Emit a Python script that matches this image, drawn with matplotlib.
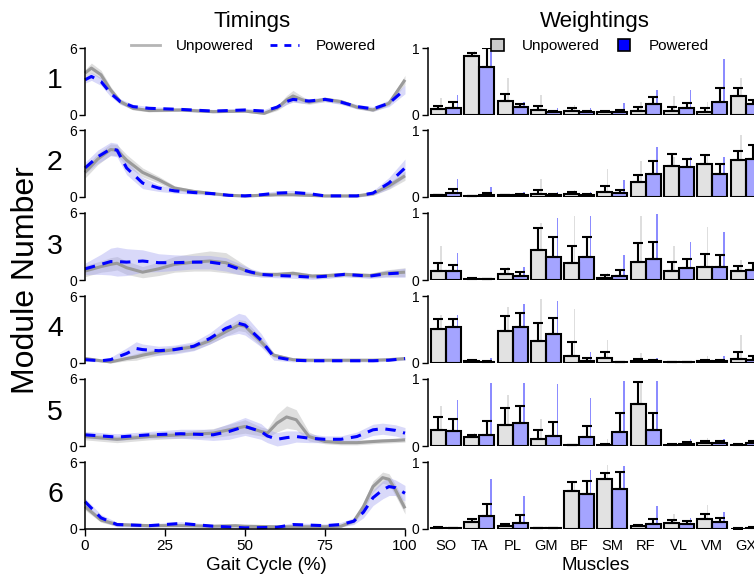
import numpy as np
import matplotlib
matplotlib.use("Agg")
import matplotlib.pyplot as plt
from matplotlib.lines import Line2D
from matplotlib.patches import Patch

plt.rcParams['font.family'] = ['Liberation Sans', 'DejaVu Sans']

# ---------------- Timing data (gait cycle %, activation) ----------------
m1_x = [0, 2, 5, 8, 11, 15, 20, 30, 40, 50, 56, 60, 63, 65, 68, 70, 75, 80, 85, 90, 95, 100]
m1_unp = [3.75, 4.2, 3.6, 2.25, 1.2, 0.6, 0.4, 0.45, 0.3, 0.35, 0.15, 0.6, 1.35, 1.7, 1.35, 1.15, 1.4, 1.2, 0.7, 0.45, 1.05, 3.15]
m1_pow = [3.15, 3.45, 3.0, 1.95, 1.2, 0.75, 0.6, 0.5, 0.35, 0.45, 0.35, 0.7, 1.2, 1.4, 1.3, 1.25, 1.4, 1.15, 0.75, 0.55, 1.05, 2.3]
m1_unp_sd = [0.3, 0.45, 0.4, 0.3, 0.2, 0.15, 0.12, 0.12, 0.1, 0.1, 0.1, 0.2, 0.4, 0.5, 0.3, 0.2, 0.2, 0.2, 0.15, 0.15, 0.2, 0.4]
m1_pow_sd = [0.3, 0.35, 0.35, 0.3, 0.25, 0.2, 0.15, 0.15, 0.15, 0.15, 0.15, 0.2, 0.25, 0.25, 0.25, 0.2, 0.2, 0.2, 0.2, 0.2, 0.3, 0.4]

m2_x = [0, 4, 8, 10, 13, 18, 23, 28, 34, 40, 45, 50, 55, 60, 65, 70, 75, 80, 85, 90, 95, 100]
m2_unp = [2.2, 3.4, 4.25, 4.2, 3.3, 2.2, 1.55, 0.8, 0.5, 0.3, 0.15, 0.1, 0.15, 0.2, 0.2, 0.15, 0.1, 0.1, 0.1, 0.3, 1.0, 1.9]
m2_pow = [2.6, 3.6, 4.3, 4.2, 2.6, 1.25, 0.8, 0.55, 0.4, 0.3, 0.15, 0.1, 0.2, 0.35, 0.4, 0.3, 0.1, 0.1, 0.1, 0.35, 1.25, 2.6]
m2_unp_sd = [0.5, 0.5, 0.5, 0.5, 0.5, 0.4, 0.3, 0.2, 0.15, 0.1, 0.1, 0.1, 0.1, 0.1, 0.1, 0.1, 0.1, 0.1, 0.1, 0.15, 0.3, 0.4]
m2_pow_sd = [0.5, 0.6, 0.6, 0.6, 0.6, 0.5, 0.3, 0.2, 0.15, 0.15, 0.1, 0.1, 0.15, 0.2, 0.2, 0.15, 0.1, 0.1, 0.1, 0.2, 0.5, 0.8]

m3_x = [0, 5, 8, 10, 13, 18, 23, 28, 34, 39, 44, 48, 52, 55, 60, 65, 71, 76, 81, 89, 94, 100]
m3_unp = [0.8, 1.2, 1.4, 1.5, 1.1, 0.7, 1.0, 1.4, 1.6, 1.7, 1.55, 1.1, 0.65, 0.5, 0.5, 0.6, 0.35, 0.4, 0.5, 0.4, 0.6, 0.7]
m3_pow = [1.0, 1.4, 1.65, 1.65, 1.6, 1.7, 1.55, 1.55, 1.6, 1.6, 1.4, 1.0, 0.7, 0.5, 0.4, 0.35, 0.25, 0.35, 0.5, 0.35, 0.55, 0.65]
m3_unp_sd = [0.5, 0.5, 0.6, 0.6, 0.6, 0.5, 0.6, 0.7, 0.8, 0.9, 0.9, 0.6, 0.3, 0.2, 0.2, 0.2, 0.2, 0.2, 0.2, 0.2, 0.3, 0.4]
m3_pow_sd = [0.5, 0.9, 1.2, 1.3, 1.2, 1.0, 0.8, 0.7, 0.6, 0.6, 0.6, 0.5, 0.3, 0.25, 0.2, 0.2, 0.2, 0.2, 0.2, 0.2, 0.3, 0.4]

m4_x = [0, 5, 8, 13, 16, 18, 23, 28, 34, 39, 44, 48, 50, 55, 59, 65, 70, 75, 80, 85, 90, 95, 100]
m4_unp = [0.4, 0.2, 0.1, 0.4, 0.55, 0.7, 1.0, 1.2, 1.45, 2.0, 2.8, 3.4, 3.3, 1.9, 0.7, 0.3, 0.25, 0.25, 0.25, 0.25, 0.25, 0.3, 0.4]
m4_pow = [0.3, 0.2, 0.3, 0.85, 1.3, 1.2, 1.1, 1.2, 1.5, 2.2, 3.1, 3.55, 3.4, 2.05, 0.55, 0.25, 0.2, 0.2, 0.2, 0.2, 0.2, 0.25, 0.4]
m4_unp_sd = [0.15, 0.1, 0.1, 0.2, 0.3, 0.3, 0.3, 0.3, 0.3, 0.3, 0.4, 0.5, 0.5, 0.4, 0.2, 0.1, 0.1, 0.1, 0.1, 0.1, 0.1, 0.1, 0.15]
m4_pow_sd = [0.15, 0.1, 0.2, 0.5, 0.6, 0.5, 0.4, 0.4, 0.4, 0.5, 0.7, 0.9, 0.9, 0.6, 0.3, 0.15, 0.1, 0.1, 0.1, 0.1, 0.1, 0.1, 0.15]

m5_x = [0, 10, 20, 30, 40, 45, 50, 55, 57, 60, 63, 66, 70, 75, 80, 85, 90, 93, 97, 100]
m5_unp = [0.85, 0.6, 0.85, 1.0, 1.15, 1.45, 1.75, 1.3, 1.15, 2.05, 2.6, 2.35, 0.85, 0.4, 0.3, 0.3, 0.4, 0.45, 0.5, 0.55]
m5_pow = [1.0, 0.8, 1.0, 1.1, 1.0, 1.3, 1.75, 1.3, 0.9, 0.6, 0.75, 0.85, 0.7, 0.6, 0.6, 0.85, 1.45, 1.55, 1.4, 1.15]
m5_unp_sd = [0.3, 0.3, 0.3, 0.3, 0.4, 0.5, 0.6, 0.4, 0.4, 0.8, 1.0, 0.9, 0.4, 0.2, 0.2, 0.2, 0.2, 0.2, 0.2, 0.2]
m5_pow_sd = [0.3, 0.3, 0.3, 0.4, 0.5, 0.7, 0.8, 0.7, 0.6, 0.6, 0.6, 0.5, 0.4, 0.3, 0.3, 0.4, 0.5, 0.5, 0.5, 0.5]

m6_x = [0, 5, 10, 20, 30, 40, 47, 50, 60, 65, 75, 80, 84, 87, 90, 93, 95, 97, 100]
m6_unp = [2.0, 0.8, 0.4, 0.3, 0.3, 0.25, 0.3, 0.25, 0.2, 0.2, 0.2, 0.25, 0.7, 2.0, 3.8, 4.6, 4.45, 3.5, 1.85]
m6_pow = [2.45, 1.0, 0.4, 0.3, 0.5, 0.25, 0.15, 0.1, 0.15, 0.4, 0.3, 0.4, 0.7, 1.5, 2.8, 3.5, 3.8, 3.7, 3.2]
m6_unp_sd = [0.3, 0.2, 0.15, 0.1, 0.1, 0.1, 0.1, 0.1, 0.1, 0.1, 0.1, 0.1, 0.2, 0.4, 0.5, 0.5, 0.5, 0.5, 0.5]
m6_pow_sd = [0.3, 0.3, 0.2, 0.15, 0.15, 0.15, 0.15, 0.15, 0.15, 0.15, 0.15, 0.2, 0.3, 0.5, 0.7, 0.8, 0.8, 0.7, 0.7]

timing_x = [m1_x, m2_x, m3_x, m4_x, m5_x, m6_x]
timing_unp = [m1_unp, m2_unp, m3_unp, m4_unp, m5_unp, m6_unp]
timing_pow = [m1_pow, m2_pow, m3_pow, m4_pow, m5_pow, m6_pow]
timing_unp_sd = [m1_unp_sd, m2_unp_sd, m3_unp_sd, m4_unp_sd, m5_unp_sd, m6_unp_sd]
timing_pow_sd = [m1_pow_sd, m2_pow_sd, m3_pow_sd, m4_pow_sd, m5_pow_sd, m6_pow_sd]

# ---------------- Weighting data ----------------
muscles = ['SO', 'TA', 'PL', 'GM', 'BF', 'SM', 'RF', 'VL', 'VM', 'GX']

w_unp_mean = [
    [0.085, 0.88, 0.21, 0.075, 0.065, 0.04, 0.065, 0.06, 0.05, 0.28],
    [0.025, 0.01, 0.025, 0.04, 0.05, 0.08, 0.23, 0.47, 0.50, 0.55],
    [0.13, 0.02, 0.09, 0.45, 0.26, 0.035, 0.27, 0.14, 0.19, 0.13],
    [0.51, 0.025, 0.48, 0.33, 0.11, 0.07, 0.03, 0.01, 0.025, 0.065],
    [0.24, 0.13, 0.32, 0.10, 0.01, 0.02, 0.63, 0.02, 0.05, 0.02],
    [0.02, 0.11, 0.045, 0.01, 0.56, 0.75, 0.045, 0.09, 0.15, 0.005],
]
w_unp_sd = [
    [0.045, 0.05, 0.11, 0.055, 0.045, 0.02, 0.055, 0.06, 0.05, 0.12],
    [0.005, 0.005, 0.01, 0.06, 0.025, 0.09, 0.10, 0.17, 0.12, 0.14],
    [0.12, 0.01, 0.07, 0.32, 0.25, 0.035, 0.28, 0.13, 0.20, 0.08],
    [0.15, 0.015, 0.22, 0.26, 0.20, 0.09, 0.03, 0.005, 0.025, 0.105],
    [0.20, 0.03, 0.25, 0.14, 0.005, 0.01, 0.33, 0.015, 0.02, 0.01],
    [0.01, 0.04, 0.025, 0.005, 0.14, 0.08, 0.015, 0.04, 0.08, 0.005],
]
w_pow_mean = [
    [0.11, 0.71, 0.12, 0.04, 0.04, 0.04, 0.16, 0.10, 0.20, 0.17],
    [0.065, 0.035, 0.025, 0.03, 0.025, 0.055, 0.35, 0.45, 0.35, 0.57],
    [0.13, 0.015, 0.065, 0.35, 0.34, 0.065, 0.32, 0.18, 0.19, 0.15],
    [0.53, 0.02, 0.53, 0.43, 0.035, 0.01, 0.025, 0.01, 0.025, 0.05],
    [0.22, 0.16, 0.34, 0.15, 0.14, 0.21, 0.24, 0.03, 0.05, 0.05],
    [0.01, 0.20, 0.09, 0.01, 0.52, 0.60, 0.07, 0.08, 0.11, 0.02],
]
w_pow_sd = [
    [0.09, 0.29, 0.05, 0.02, 0.02, 0.035, 0.11, 0.08, 0.21, 0.05],
    [0.06, 0.03, 0.015, 0.02, 0.015, 0.045, 0.18, 0.12, 0.15, 0.20],
    [0.09, 0.005, 0.055, 0.29, 0.30, 0.085, 0.25, 0.14, 0.19, 0.11],
    [0.12, 0.015, 0.22, 0.24, 0.035, 0.005, 0.015, 0.005, 0.025, 0.05],
    [0.19, 0.22, 0.26, 0.21, 0.16, 0.28, 0.25, 0.03, 0.03, 0.03],
    [0.005, 0.18, 0.12, 0.005, 0.20, 0.25, 0.08, 0.04, 0.06, 0.01],
]
w_unp_max = [
    [0.25, 0.95, 0.55, 0.30, 0.15, 0.05, 0.20, 0.28, 0.20, 0.55],
    [0.05, 0.02, 0.05, 0.27, 0.10, 0.42, 0.53, 0.60, 0.62, 0.93],
    [0.50, 0.04, 0.20, 0.85, 0.95, 0.10, 0.96, 0.50, 0.79, 0.30],
    [0.72, 0.05, 0.83, 0.95, 0.80, 0.35, 0.15, 0.02, 0.10, 0.42],
    [0.60, 0.20, 0.76, 0.40, 0.02, 0.10, 0.97, 0.05, 0.12, 0.05],
    [0.03, 0.15, 0.07, 0.02, 0.70, 0.96, 0.07, 0.23, 0.36, 0.01],
]
w_pow_max = [
    [0.30, 0.95, 0.20, 0.10, 0.10, 0.18, 0.38, 0.38, 0.83, 0.30],
    [0.27, 0.15, 0.08, 0.08, 0.07, 0.26, 0.74, 0.60, 0.60, 0.80],
    [0.40, 0.03, 0.20, 0.93, 0.96, 0.38, 0.98, 0.56, 0.72, 0.35],
    [0.72, 0.07, 0.88, 0.93, 0.17, 0.02, 0.08, 0.02, 0.11, 0.12],
    [0.68, 0.94, 0.94, 0.93, 0.71, 0.97, 0.97, 0.10, 0.10, 0.12],
    [0.02, 0.75, 0.50, 0.02, 0.88, 0.94, 0.35, 0.17, 0.26, 0.03],
]
module_labels = ['1', '2', '3', '4', '5', '6']
gait_ticks = [0, 25, 50, 75, 100]

# ---------------- Styling ----------------
W, H = 754, 575
fig = plt.figure(figsize=(W / 100, H / 100), dpi=100)
zero_px = [115, 197, 280, 363, 446, 529]
row_h = 67

GRAY_LINE = '#9a9a9a'
GRAY_BAND = '#d0d0d0'
BLUE_LINE = '#0000ff'
BLUE_BAND = '#a0a0f0'
UNP_FILL = '#e2e2e2'
POW_FILL = '#a4a4ff'
UNP_SPIKE = '#dedede'
POW_SPIKE = '#8c8cff'

for k in range(6):
    bottom = (H - zero_px[k]) / H
    # ---- Timing axes ----
    ax = fig.add_axes([85 / W, bottom, 320 / W, row_h / H])
    x = np.array(timing_x[k])
    u = np.array(timing_unp[k]); us = np.array(timing_unp_sd[k])
    p = np.array(timing_pow[k]); ps = np.array(timing_pow_sd[k])
    ax.fill_between(x, u - us, u + us, color=GRAY_BAND, alpha=0.7, lw=0, clip_on=False)
    ax.fill_between(x, p - ps, p + ps, color=BLUE_BAND, alpha=0.4, lw=0, clip_on=False)
    ax.plot(x, u, color=GRAY_LINE, lw=2.2, clip_on=False, solid_capstyle='butt')
    ax.plot(x, p, color=BLUE_LINE, lw=2.2, dashes=(3.4, 2.5), clip_on=False)
    ax.set_xlim(0, 100)
    ax.set_ylim(0, 6)
    ax.set_yticks([0, 6])
    ax.set_yticklabels(['0', '6'], fontsize=10)
    ax.tick_params(axis='y', length=4, width=1, pad=1.5)
    for s in ['top', 'right']:
        ax.spines[s].set_visible(False)
    ax.spines['left'].set_bounds(0, 6)
    ax.spines['left'].set_linewidth(1.1)
    if k < 5:
        ax.spines['bottom'].set_visible(False)
        ax.set_xticks([])
    else:
        ax.spines['bottom'].set_linewidth(1.1)
        ax.set_xticks(gait_ticks)
        ax.set_xticklabels([str(t) for t in gait_ticks], fontsize=11)
        ax.tick_params(axis='x', length=5, width=1, pad=2.5)
    ax.patch.set_visible(False)
    fig.text(55 / W, 1 - (zero_px[k] - row_h / 2) / H, module_labels[k],
             fontsize=20.5, ha='center', va='center')

    # ---- Weighting axes ----
    axw = fig.add_axes([428 / W, bottom, (W - 428) / W, row_h / H])
    idx = np.arange(len(muscles))
    bw = 0.45
    um = np.array(w_unp_mean[k]); usd = np.array(w_unp_sd[k])
    pm = np.array(w_pow_mean[k]); psd = np.array(w_pow_sd[k])
    umax = np.array(w_unp_max[k]); pmax = np.array(w_pow_max[k])
    # subject spikes
    axw.bar(idx - bw / 2 + 0.08, umax, width=0.05, color=UNP_SPIKE, lw=0, zorder=1)
    axw.bar(idx + bw / 2 + 0.12, pmax, width=0.05, color=POW_SPIKE, lw=0, zorder=1)
    # bar fills
    axw.bar(idx - bw / 2, um, width=bw, color=UNP_FILL, lw=0, zorder=2)
    axw.bar(idx + bw / 2, pm, width=bw, color=POW_FILL, lw=0, zorder=2)
    # bar outlines
    axw.bar(idx - bw / 2, um, width=bw, facecolor='none', edgecolor='black', lw=1.5, zorder=4)
    axw.bar(idx + bw / 2, pm, width=bw, facecolor='none', edgecolor='black', lw=1.5, zorder=4)
    # upper error bars
    axw.errorbar(idx - bw / 2, um, yerr=[np.zeros_like(usd), usd], fmt='none',
                 ecolor='black', elinewidth=1.5, capsize=3.8, capthick=1.5, zorder=5)
    axw.errorbar(idx + bw / 2, pm, yerr=[np.zeros_like(psd), psd], fmt='none',
                 ecolor='black', elinewidth=1.5, capsize=3.8, capthick=1.5, zorder=5)
    axw.set_xlim(-0.54, 9.25)
    axw.set_ylim(0, 1)
    axw.set_yticks([0, 1])
    axw.set_yticklabels(['0', '1'], fontsize=10)
    axw.tick_params(axis='y', length=4.5, width=1, pad=1.5)
    for s in ['top', 'right', 'bottom']:
        axw.spines[s].set_visible(False)
    axw.spines['left'].set_bounds(0, 1)
    axw.spines['left'].set_linewidth(1.1)
    if k < 5:
        axw.set_xticks([])
    else:
        axw.set_xticks(idx)
        axw.set_xticklabels(muscles, fontsize=10.5)
        axw.tick_params(axis='x', length=0, pad=7.5)
    axw.patch.set_visible(False)

# ---------------- Titles, labels, legends ----------------
fig.text(252 / W, 1 - 22 / H, 'Timings', fontsize=16, ha='center', va='center')
fig.text(595 / W, 1 - 22 / H, 'Weightings', fontsize=16, ha='center', va='center')
fig.text(266 / W, 1 - 565 / H, 'Gait Cycle (%)', fontsize=13.5, ha='center', va='center')
fig.text(596 / W, 1 - 565 / H, 'Muscles', fontsize=13.5, ha='center', va='center')
fig.text(26 / W, 1 - 280 / H, 'Module Number', fontsize=23, ha='center', va='center',
         rotation=90)

h1 = [Line2D([], [], color='#b5b5b5', lw=2),
      Line2D([], [], color=BLUE_LINE, lw=2, dashes=(2.5, 2.5))]
fig.legend(h1, ['Unpowered', 'Powered'], loc='center', bbox_to_anchor=(253 / W, 1 - 46 / H),
           ncol=2, frameon=False, fontsize=11, handlelength=1.9, columnspacing=1.0,
           handletextpad=1.1, borderaxespad=0, borderpad=0)
h2 = [Patch(facecolor='#cccccc', edgecolor='black', lw=1.2),
      Patch(facecolor='#0000ff', edgecolor='black', lw=1.2)]
fig.legend(h2, ['Unpowered', 'Powered'], loc='center', bbox_to_anchor=(600 / W, 1 - 46 / H),
           ncol=2, frameon=False, fontsize=11, handlelength=0.8, handleheight=0.8,
           columnspacing=1.2, handletextpad=1.2, borderaxespad=0, borderpad=0)

fig.savefig('out.png', dpi=100)
